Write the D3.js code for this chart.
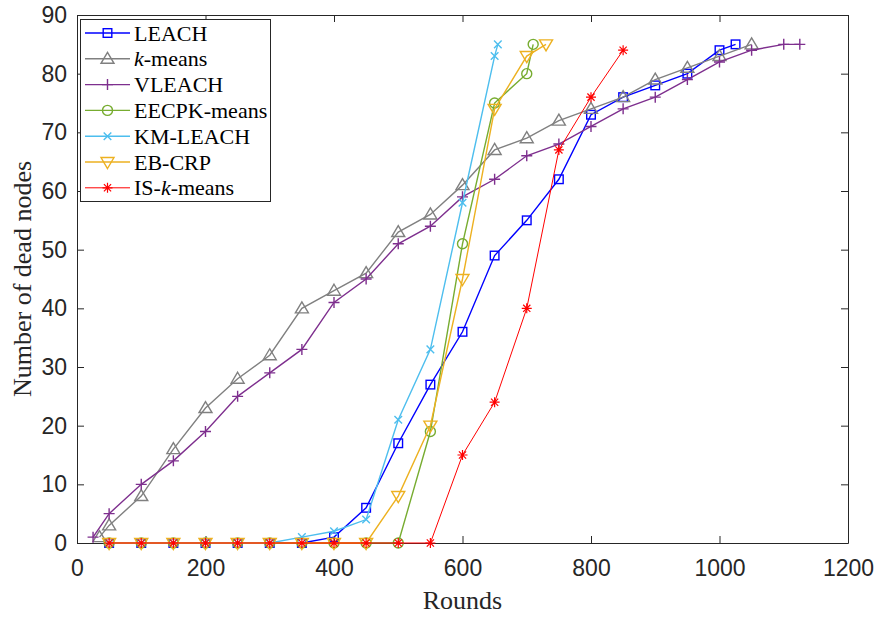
<!DOCTYPE html>
<html>
<head>
<meta charset="utf-8">
<script src="https://cdn.jsdelivr.net/npm/d3@7"></script>
<style>
  body { margin: 0; background: #fff; }
  svg { display: block; }
</style>
</head>
<body>
<div id="chart"></div>
<script>
// rounds / dead nodes for each protocol
const leachX = [50, 100, 150, 200, 250, 300, 350, 400, 450, 500, 550, 600, 650, 700, 750, 800, 850, 900, 950, 1000, 1025];
const leachY = [0, 0, 0, 0, 0, 0, 0, 1, 6, 17, 27, 36, 49, 55, 62, 73, 76, 78, 80, 84, 85];
const kmeansX = [35, 50, 100, 150, 200, 250, 300, 350, 400, 450, 500, 550, 600, 650, 700, 750, 800, 850, 900, 950, 1000, 1050];
const kmeansY = [1, 3, 8, 16, 23, 28, 32, 40, 43, 46, 53, 56, 61, 67, 69, 72, 74, 76, 79, 81, 83, 85];
const vleachX = [25, 50, 100, 150, 200, 250, 300, 350, 400, 450, 500, 550, 600, 650, 700, 750, 800, 850, 900, 950, 1000, 1050, 1100, 1125];
const vleachY = [1, 5, 10, 14, 19, 25, 29, 33, 41, 45, 51, 54, 59, 62, 66, 68, 71, 74, 76, 79, 82, 84, 85, 85];
const eecpkX = [50, 100, 150, 200, 250, 300, 350, 400, 450, 500, 550, 600, 650, 700, 710];
const eecpkY = [0, 0, 0, 0, 0, 0, 0, 0, 0, 0, 19, 51, 75, 80, 85];
const kmleachX = [50, 100, 150, 200, 250, 300, 350, 400, 450, 500, 550, 600, 650, 655];
const kmleachY = [0, 0, 0, 0, 0, 0, 1, 2, 4, 21, 33, 58, 83, 85];
const ebcrpX = [50, 100, 150, 200, 250, 300, 350, 400, 450, 500, 550, 600, 650, 700, 730];
const ebcrpY = [0, 0, 0, 0, 0, 0, 0, 0, 0, 8, 20, 45, 74, 83, 85];
const iskX = [50, 100, 150, 200, 250, 300, 350, 400, 450, 500, 550, 600, 650, 700, 750, 800, 850];
const iskY = [0, 0, 0, 0, 0, 0, 0, 0, 0, 0, 0, 15, 24, 40, 67, 76, 84];

const xTicks = [0, 200, 400, 600, 800, 1000, 1200];
const yTicks = [0, 10, 20, 30, 40, 50, 60, 70, 80, 90];

const series = [
  { name: 'LEACH', xs: leachX, ys: leachY, color: '#0000ff', marker: 'square', width: 1.4 },
  { name: 'k-means', xs: kmeansX, ys: kmeansY, color: '#808080', marker: 'triangle', width: 1.4 },
  { name: 'VLEACH', xs: vleachX, ys: vleachY, color: '#7e2f8e', marker: 'plus', width: 1.4 },
  { name: 'EECPK-means', xs: eecpkX, ys: eecpkY, color: '#77ac30', marker: 'circle', width: 1.4 },
  { name: 'KM-LEACH', xs: kmleachX, ys: kmleachY, color: '#4dbeee', marker: 'cross', width: 1.4 },
  { name: 'EB-CRP', xs: ebcrpX, ys: ebcrpY, color: '#edb120', marker: 'down', width: 1.4 },
  { name: 'IS-k-means', xs: iskX, ys: iskY, color: '#ff0000', marker: 'star', width: 1 }
];

const width = 881;
const height = 618;
const margin = { top: 15, right: 33, bottom: 75, left: 77 };
const axisColor = '#262626';

const svg = d3.select('#chart')
  .append('svg')
  .attr('width', width)
  .attr('height', height);

const x = d3.scaleLinear().domain([0, 1200]).range([margin.left, width - margin.right]);
const y = d3.scaleLinear().domain([0, 90]).range([height - margin.bottom, margin.top]);

// axes (ticks point inward, box on)
const tickLen = 7;
svg.append('g')
  .attr('transform', `translate(0,${y(0)})`)
  .call(d3.axisBottom(x).tickValues(xTicks).tickSizeInner(-tickLen).tickSizeOuter(0).tickPadding(17).tickFormat(d3.format('d')));
svg.append('g')
  .attr('transform', `translate(${x(0)},0)`)
  .call(d3.axisLeft(y).tickValues(yTicks).tickSizeInner(-tickLen).tickSizeOuter(0).tickPadding(10).tickFormat(d3.format('d')));
svg.append('g')
  .attr('transform', `translate(0,${y(90)})`)
  .call(d3.axisTop(x).tickValues(xTicks).tickSizeInner(-tickLen).tickSizeOuter(0).tickFormat(''));
svg.append('g')
  .attr('transform', `translate(${x(1200)},0)`)
  .call(d3.axisRight(y).tickValues(yTicks).tickSizeInner(-tickLen).tickSizeOuter(0).tickFormat(''));

svg.selectAll('.domain').attr('stroke', axisColor).attr('stroke-width', 1);
svg.selectAll('.tick line').attr('stroke', axisColor).attr('stroke-width', 1);
svg.selectAll('.tick text')
  .attr('fill', axisColor)
  .style('font-family', 'Liberation Sans, Arial, sans-serif')
  .style('font-size', '23px');

svg.append('text')
  .attr('x', (x(0) + x(1200)) / 2)
  .attr('y', 609)
  .attr('text-anchor', 'middle')
  .attr('fill', axisColor)
  .style('font-family', 'Liberation Serif, Times New Roman, serif')
  .style('font-size', '26px')
  .text('Rounds');

svg.append('text')
  .attr('transform', `translate(31,${(y(0) + y(90)) / 2}) rotate(-90)`)
  .attr('text-anchor', 'middle')
  .attr('fill', axisColor)
  .style('font-family', 'Liberation Serif, Times New Roman, serif')
  .style('font-size', '26px')
  .text('Number of dead nodes');

function drawMarker(g, type, color, cx, cy) {
  const s = 4.3;
  if (type === 'square') {
    g.append('rect').attr('x', cx - s).attr('y', cy - s).attr('width', 2 * s).attr('height', 2 * s)
      .attr('fill', 'none').attr('stroke', color).attr('stroke-width', 1.4);
  } else if (type === 'circle') {
    g.append('circle').attr('cx', cx).attr('cy', cy).attr('r', 5)
      .attr('fill', 'none').attr('stroke', color).attr('stroke-width', 1.4);
  } else if (type === 'triangle') {
    g.append('path').attr('d', `M${cx},${cy - 6.5}L${cx + 6.5},${cy + 4.5}L${cx - 6.5},${cy + 4.5}Z`)
      .attr('fill', 'none').attr('stroke', color).attr('stroke-width', 1.4);
  } else if (type === 'down') {
    g.append('path').attr('d', `M${cx},${cy + 6.5}L${cx + 6.5},${cy - 4.5}L${cx - 6.5},${cy - 4.5}Z`)
      .attr('fill', 'none').attr('stroke', color).attr('stroke-width', 1.4);
  } else if (type === 'plus') {
    g.append('path').attr('d', `M${cx - 5.5},${cy}H${cx + 5.5}M${cx},${cy - 5.5}V${cy + 5.5}`)
      .attr('stroke', color).attr('stroke-width', 1.4);
  } else if (type === 'cross') {
    const c = 3.8;
    g.append('path').attr('d', `M${cx - c},${cy - c}L${cx + c},${cy + c}M${cx - c},${cy + c}L${cx + c},${cy - c}`)
      .attr('stroke', color).attr('stroke-width', 1.4);
  } else if (type === 'star') {
    const c = 5, d = 3.6;
    g.append('path').attr('d', `M${cx - c},${cy}H${cx + c}M${cx},${cy - c}V${cy + c}M${cx - d},${cy - d}L${cx + d},${cy + d}M${cx - d},${cy + d}L${cx + d},${cy - d}`)
      .attr('stroke', color).attr('stroke-width', 1.2);
  }
}

const line = d3.line().x(d => x(d[0])).y(d => y(d[1]));

series.forEach(s => {
  const pts = s.xs.map((v, i) => [v, s.ys[i]]);
  const g = svg.append('g');
  g.append('path')
    .attr('d', line(pts))
    .attr('fill', 'none')
    .attr('stroke', s.color)
    .attr('stroke-width', s.width);
  pts.forEach(p => drawMarker(g, s.marker, s.color, x(p[0]), y(p[1])));
});

// legend
const legend = svg.append('g');
legend.append('rect')
  .attr('x', 80.5).attr('y', 19.5).attr('width', 190).attr('height', 182)
  .attr('fill', '#fff').attr('stroke', axisColor).attr('stroke-width', 1);

series.forEach((s, i) => {
  const ly = 33 + i * 25.8;
  legend.append('line')
    .attr('x1', 85).attr('x2', 130).attr('y1', ly).attr('y2', ly)
    .attr('stroke', s.color).attr('stroke-width', s.width);
  drawMarker(legend, s.marker, s.color, 107.5, ly);
  const t = legend.append('text')
    .attr('x', 134).attr('y', ly + 7.5)
    .attr('fill', '#000')
    .style('font-family', 'Liberation Serif, Times New Roman, serif')
    .style('font-size', '22px');
  const parts = s.name.split(/(k)(?=-means)/);
  parts.forEach(p => {
    if (!p) return;
    t.append('tspan').text(p).style('font-style', p === 'k' ? 'italic' : 'normal');
  });
});
</script>
</body>
</html>
